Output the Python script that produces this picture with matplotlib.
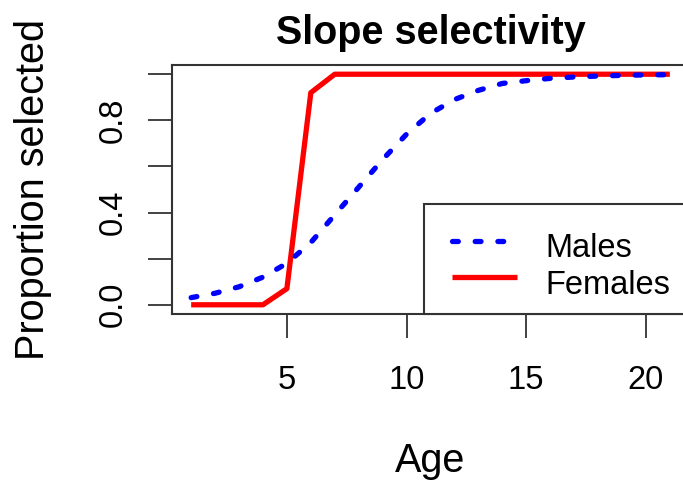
import matplotlib
matplotlib.use("Agg")
import matplotlib.pyplot as plt
from matplotlib.patches import Rectangle
from matplotlib.lines import Line2D

plt.rcParams["font.family"] = ["Liberation Sans", "DejaVu Sans"]

# selectivity-at-age, ages 1..21
ages = list(range(1, 22))
males = [0.031, 0.05, 0.078, 0.12, 0.18, 0.27, 0.39, 0.51, 0.63, 0.74, 0.83,
         0.89, 0.93, 0.96, 0.972, 0.982, 0.988, 0.992, 0.995, 0.997, 0.998]
females = [0.0, 0.0, 0.0, 0.0, 0.07, 0.92, 1.0, 1.0, 1.0, 1.0, 1.0,
           1.0, 1.0, 1.0, 1.0, 1.0, 1.0, 1.0, 1.0, 1.0, 1.0]
series_labels = ["Males", "Females"]
x_ticks = [5, 10, 15, 20]
y_ticks = [0.0, 0.2, 0.4, 0.6, 0.8, 1.0]
y_ticklabels = ["0.0", "", "0.4", "", "0.8", ""]

W, H = 683, 483
L, R, T, B = 172, 689, 65, 314   # plot region in pixels
fig = plt.figure(figsize=(W / 100, H / 100), dpi=100)
# plot region runs a little past the right edge of the canvas
ax = fig.add_axes([L / W, (H - B) / H, (R - L) / W, (B - T) / H])


def px(x, y):
    """pixel position -> axes fraction"""
    return (x - L) / (R - L), (B - y) / (B - T)


male_style = dict(color="#0000ff", lw=3.8, linestyle=(0, (1.1, 3.2)),
                  dash_capstyle="round")
female_style = dict(color="#ff0000", lw=3.8, solid_capstyle="butt")

ax.plot(ages, males, zorder=3, **male_style)
ax.plot(ages, females, zorder=2, **female_style)

# R-style 4% padding on both axes
ax.set_xlim(0.2, 21.8)
ax.set_ylim(-0.04, 1.04)

ax.set_xticks(x_ticks)
ax.set_yticks(y_ticks)
ax.set_yticklabels(y_ticklabels, rotation=90, va="center")
ax.tick_params(axis="both", length=17, width=1.3, color="#333333",
               labelsize=23.5, direction="out")
ax.tick_params(axis="x", pad=20)
ax.tick_params(axis="y", pad=14)
for s in ax.spines.values():
    s.set_linewidth(1.5)
    s.set_color("#333333")

ax.set_title("Slope selectivity", fontsize=28.5, fontweight="bold", pad=15)
ax.set_xlabel("Age", fontsize=28.5, labelpad=33)
ax.set_ylabel("Proportion selected", fontsize=28.5, labelpad=33)

# bottom-right legend box, open past the right edge like the plot frame
x0, y0 = px(424, 204)
ax.add_patch(Rectangle((x0, 0), 1.2, y0, transform=ax.transAxes,
                       facecolor="white", edgecolor="#333333", lw=1.5,
                       clip_on=False, zorder=5))
for (ly, ty), lab, sty in zip([(241, 257), (277, 294)], series_labels,
                              [male_style, female_style]):
    xa, ya = px(452, ly)
    xb, _ = px(517, ly)
    ax.add_line(Line2D([xa, xb], [ya, ya], transform=ax.transAxes,
                       zorder=6, **sty))
    tx, tyy = px(545, ty)
    ax.text(tx, tyy, lab, transform=ax.transAxes, fontsize=23.5,
            va="baseline", ha="left", zorder=6)

fig.savefig("out.png", dpi=100)
